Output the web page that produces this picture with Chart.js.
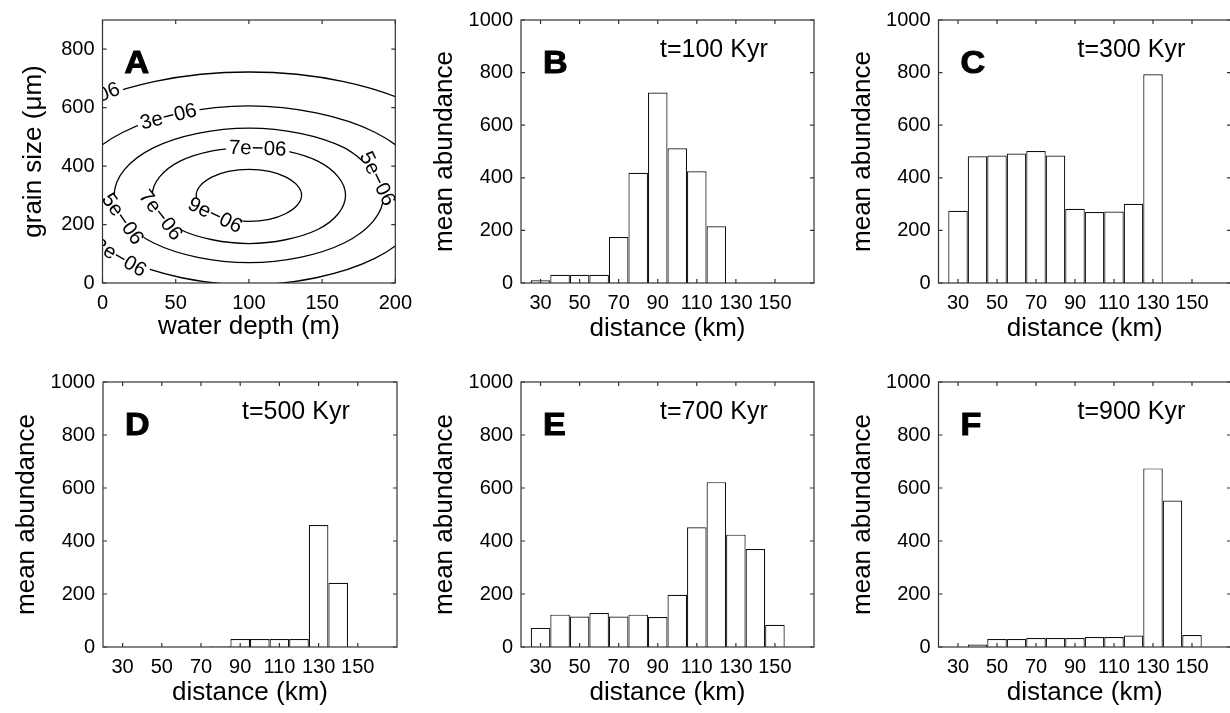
<!DOCTYPE html>
<html lang="en">
<head>
  <meta charset="UTF-8">
  <title>Mean abundance along the transect</title>
  <script src="https://cdn.jsdelivr.net/npm/chart.js@4/dist/chart.umd.min.js"></script>
  <style>
    body {
      margin: 0;
      background: #fff;
      overflow: hidden;
    }
    #figure {
      position: relative;
      width: 1230px;
      height: 713px;
      overflow: hidden;
    }
    #figure canvas {
      position: absolute;
    }
  </style>
</head>
<body>
  <div id="figure">
    <canvas id="panelA" width="420" height="356" style="left:0;top:0"></canvas>
    <canvas id="panelB" width="410" height="356" style="left:420px;top:0"></canvas>
    <canvas id="panelC" width="410" height="356" style="left:830px;top:0"></canvas>
    <canvas id="panelD" width="420" height="357" style="left:0;top:356px"></canvas>
    <canvas id="panelE" width="410" height="357" style="left:420px;top:356px"></canvas>
    <canvas id="panelF" width="410" height="357" style="left:830px;top:356px"></canvas>
  </div>

  <script>
    // ---- histogram data: 10 km bins, mean abundance per bin ----
    const binCenters = [30, 40, 50, 60, 70, 80, 90, 100, 110, 120, 130, 140, 150, 160];
    const abundance100 = [10, 31, 31, 31, 175, 419, 724, 512, 425, 216, 0, 0, 0, 0];
    const abundance300 = [275, 482, 485, 492, 502, 485, 282, 270, 272, 301, 794, 0, 0, 0];
    const abundance500 = [0, 0, 0, 0, 0, 3, 30, 30, 30, 30, 460, 242, 0, 0];
    const abundance700 = [72, 122, 115, 128, 115, 122, 113, 197, 452, 622, 424, 370, 84, 0];
    const abundance900 = [0, 9, 30, 30, 34, 34, 34, 38, 38, 43, 674, 553, 45, 0];
    const distanceTicks = [30, 50, 70, 90, 110, 130, 150];
    const abundanceTicks = [0, 200, 400, 600, 800, 1000];

    // ---- panel A: habitat contours, [water depth (m), grain size (um)] ----
    const contourLevels = ['1e\u221206', '3e\u221206', '5e\u221206', '7e\u221206', '9e\u221206'];
    const contour1e6 = [[267, 300], [254, 460], [218, 598], [164, 690], [100, 722], [36, 690], [-18, 598], [-54, 460],
      [-67, 300], [-54, 140], [-18, 4], [36, -87], [100, -119], [164, -87], [218, 4], [254, 140], [267, 300]];
    const contour3e6 = [[221, 300], [212, 417], [186, 516], [146, 582], [100, 606], [54, 582], [14, 516], [-12, 417],
      [-21, 300], [-12, 183], [14, 84], [54, 18], [100, -6], [146, 18], [186, 84], [212, 183], [221, 300]];
    const contour5e6 = [[185, 388], [165, 463], [135, 512], [100, 530], [65, 512], [35, 463], [15, 388], [8, 300],
      [15, 212], [35, 137], [65, 88], [100, 70], [135, 88], [165, 137], [185, 212], [192, 300], [185, 388]];
    const contour7e6 = [[100, 465], [75, 452], [53, 417], [39, 363], [34, 300], [39, 237], [53, 183], [75, 148],
      [100, 135], [125, 148], [147, 183], [161, 237], [166, 300], [161, 363], [147, 417], [125, 452], [100, 465]];
    const contour9e6 = [[75, 237], [86, 218], [100, 211], [114, 218], [125, 237], [133, 266], [136, 300], [133, 334],
      [125, 363], [114, 382], [100, 389], [86, 382], [75, 363], [67, 334], [64, 300], [67, 266], [75, 237]];
    const contours = [contour1e6, contour3e6, contour5e6, contour7e6, contour9e6];
    const depthTicks = [0, 50, 100, 150, 200];
    const grainTicks = [0, 200, 400, 600, 800];

    // inline labels: level index, depth, grain size, angle (deg)
    const contourLabels = [
      [0, -7, 632, -22],
      [1, 45, 571, -14],
      [1, 12, 88, 30],
      [2, 188, 358, 64],
      [2, 14, 220, 55],
      [3, 106, 462, 2],
      [3, 40, 233, 52],
      [4, 77, 233, 26]
    ];

    Chart.defaults.font.family = '"Liberation Sans", Arial, Helvetica, sans-serif';
    Chart.defaults.color = '#000';

    const TICK_LEN = 4;
    const TITLE_SIZE = 26;
    const TITLE_HALF = TITLE_SIZE * 1.2 / 2;

    // box round the axes with inward ticks on all four sides
    const boxPlugin = {
      id: 'boxTicks',
      afterDatasetsDraw(chart) {
        const { ctx, chartArea: a, scales: { x, y } } = chart;
        ctx.save();
        ctx.strokeStyle = '#333';
        ctx.lineWidth = 1.2;
        ctx.beginPath();
        x.ticks.forEach(t => {
          const px = x.getPixelForValue(t.value);
          ctx.moveTo(px, a.bottom); ctx.lineTo(px, a.bottom - TICK_LEN);
          ctx.moveTo(px, a.top); ctx.lineTo(px, a.top + TICK_LEN);
        });
        y.ticks.forEach(t => {
          const py = y.getPixelForValue(t.value);
          ctx.moveTo(a.left, py); ctx.lineTo(a.left + TICK_LEN, py);
          ctx.moveTo(a.right, py); ctx.lineTo(a.right - TICK_LEN, py);
        });
        ctx.stroke();
        ctx.strokeRect(a.left, a.top, a.right - a.left, a.bottom - a.top);
        ctx.restore();
      }
    };

    // heavy panel letter plus optional time stamp
    const tagPlugin = {
      id: 'panelTag',
      afterDraw(chart, args, opts) {
        const { ctx, chartArea: a } = chart;
        ctx.save();
        ctx.fillStyle = '#000';
        ctx.strokeStyle = '#000';
        ctx.textBaseline = 'alphabetic';
        ctx.save();
        ctx.translate(a.left + 22, a.top + 53);
        ctx.scale(1.1, 1);
        ctx.font = 'bold 31px "Liberation Sans"';
        ctx.lineWidth = 1;
        ctx.fillText(opts.letter, 0, 0);
        ctx.strokeText(opts.letter, 0, 0);
        ctx.restore();
        if (opts.time) {
          ctx.font = '25px "Liberation Sans"';
          ctx.fillText(opts.time, a.left + 139, a.top + 37);
        }
        ctx.restore();
      }
    };

    // contour labels sitting in a gap of their line
    const contourLabelPlugin = {
      id: 'contourLabels',
      afterDatasetsDraw(chart) {
        const { ctx, chartArea: a, scales: { x, y } } = chart;
        ctx.save();
        ctx.beginPath();
        ctx.rect(a.left, a.top, a.right - a.left, a.bottom - a.top);
        ctx.clip();
        ctx.font = '20.5px "Liberation Sans"';
        ctx.textAlign = 'center';
        ctx.textBaseline = 'middle';
        contourLabels.forEach(([lvl, depth, grain, angle]) => {
          const text = contourLevels[lvl];
          const w = ctx.measureText(text).width;
          ctx.save();
          ctx.translate(x.getPixelForValue(depth), y.getPixelForValue(grain));
          ctx.rotate(angle * Math.PI / 180);
          ctx.fillStyle = '#fff';
          ctx.fillRect(-w / 2 - 3, -6, w + 6, 12);
          ctx.fillStyle = '#000';
          ctx.fillText(text, 0, 1);
          ctx.restore();
        });
        ctx.restore();
      }
    };

    // options for one panel; canvas and plot rectangles are in page pixels
    function panelOptions(p) {
      const xHeight = p.canvas.top + p.canvas.h - p.plot.bottom;
      const yWidth = p.plot.left - p.canvas.left;
      const yTitleX = p.plot.left - p.yTitleGap - p.canvas.left;
      return {
        responsive: false,
        animation: false,
        devicePixelRatio: 1,
        layout: {
          autoPadding: false,
          padding: {
            left: 0,
            top: p.plot.top - p.canvas.top,
            right: p.canvas.left + p.canvas.w - p.plot.right,
            bottom: 0
          }
        },
        plugins: {
          legend: { display: false },
          tooltip: { enabled: false },
          panelTag: { letter: p.letter, time: p.time }
        },
        scales: {
          x: {
            type: 'linear',
            min: p.xMin,
            max: p.xMax,
            offset: false,
            afterBuildTicks: s => { s.ticks = p.xTicks.map(v => ({ value: v })); },
            afterFit: s => { s.height = xHeight; },
            grid: { display: false, drawTicks: false },
            border: { display: false },
            ticks: { font: { size: 20 }, padding: 8, maxRotation: 0, autoSkip: false, callback: v => String(v) },
            title: {
              display: true, text: p.xTitle, font: { size: TITLE_SIZE },
              padding: { top: 0, bottom: xHeight - p.xTitleGap - TITLE_HALF }
            }
          },
          y: {
            type: 'linear',
            min: p.yMin,
            max: p.yMax,
            afterBuildTicks: s => { s.ticks = p.yTicks.map(v => ({ value: v })); },
            afterFit: s => { s.width = yWidth; },
            grid: { display: false, drawTicks: false },
            border: { display: false },
            ticks: { font: { size: 20 }, padding: 8, autoSkip: false, callback: v => String(v) },
            title: {
              display: true, text: p.yTitle, font: { size: TITLE_SIZE },
              padding: { top: yTitleX - TITLE_HALF, bottom: 0 }
            }
          }
        }
      };
    }

    const ROW1 = { top: 0, h: 356 };
    const ROW2 = { top: 356, h: 357 };
    const COL1 = { left: 0, w: 420 };
    const COL2 = { left: 420, w: 410 };
    const COL3 = { left: 830, w: 410 };

    function histogram(id, values, letter, time, col, row, plot) {
      const opts = panelOptions({
        canvas: { left: col.left, w: col.w, top: row.top, h: row.h },
        plot,
        xMin: 20, xMax: 170, xTicks: distanceTicks, xTitle: 'distance (km)', xTitleGap: 46,
        yMin: 0, yMax: 1000, yTicks: abundanceTicks, yTitle: 'mean abundance', yTitleGap: 76,
        letter, time
      });
      new Chart(document.getElementById(id), {
        type: 'bar',
        data: {
          datasets: [{
            data: binCenters.map((d, i) => ({ x: d, y: values[i] })),
            backgroundColor: '#fff',
            borderColor: '#111',
            borderWidth: 1.2,
            barPercentage: 1,
            categoryPercentage: 1,
            inflateAmount: 0
          }]
        },
        options: opts,
        plugins: [boxPlugin, tagPlugin]
      });
    }

    // panel A: contour plot
    new Chart(document.getElementById('panelA'), {
      type: 'scatter',
      data: {
        datasets: contours.map(pts => ({
          data: pts.map(([x, y]) => ({ x, y })),
          showLine: true,
          pointRadius: 0,
          borderColor: '#000',
          borderWidth: 1.3,
          tension: 0.35,
          capBezierPoints: false,
          clip: 0,
          fill: false
        }))
      },
      options: panelOptions({
        canvas: { left: COL1.left, w: COL1.w, top: ROW1.top, h: ROW1.h },
        plot: { left: 102.5, top: 16, right: 397, bottom: 283 },
        xMin: 0, xMax: 200, xTicks: depthTicks, xTitle: 'water depth (m)', xTitleGap: 44,
        yMin: 0, yMax: 900, yTicks: grainTicks, yTitle: 'grain size (\u03bcm)', yTitleGap: 69,
        letter: 'A'
      }),
      plugins: [contourLabelPlugin, boxPlugin, tagPlugin]
    });

    histogram('panelB', abundance100, 'B', 't=100 Kyr', COL2, ROW1, { left: 521, top: 16, right: 814, bottom: 283 });
    histogram('panelC', abundance300, 'C', 't=300 Kyr', COL3, ROW1, { left: 938.5, top: 16, right: 1231, bottom: 283 });
    histogram('panelD', abundance500, 'D', 't=500 Kyr', COL1, ROW2, { left: 103, top: 382, right: 397, bottom: 647 });
    histogram('panelE', abundance700, 'E', 't=700 Kyr', COL2, ROW2, { left: 521, top: 382, right: 814, bottom: 647 });
    histogram('panelF', abundance900, 'F', 't=900 Kyr', COL3, ROW2, { left: 938.5, top: 382, right: 1231, bottom: 647 });
  </script>
</body>
</html>
